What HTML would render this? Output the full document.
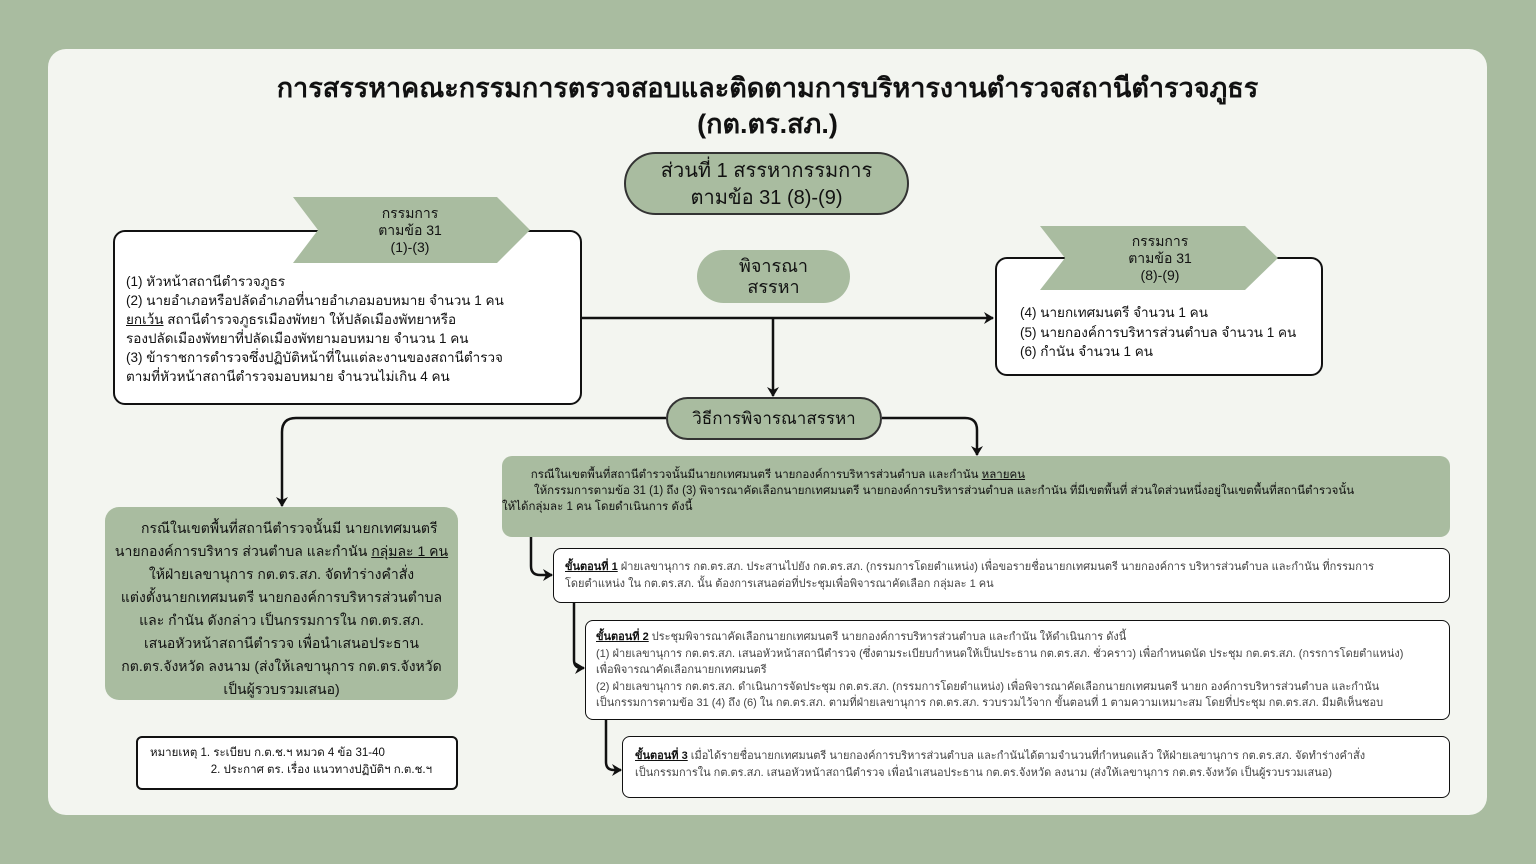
<!DOCTYPE html>
<html><head><meta charset="utf-8"><style>
body{margin:0;width:1536px;height:864px;background:#a9bca0;font-family:"Liberation Sans","Noto Sans CJK SC",sans-serif;position:relative;overflow:hidden;color:#111}
.a{position:absolute;box-sizing:border-box}
.panel{left:48px;top:49px;width:1439px;height:766px;background:#f3f5f0;border-radius:18px}
.g{background:#a9bca0}
.bx{background:#fff;border:2.5px solid #111;border-radius:12px}
.c{text-align:center}
u{text-decoration:underline}
</style></head><body>
<div class="a panel"></div>
<div class="a c" style="left:48px;width:1439px;top:70px;font-size:27px;font-weight:bold;line-height:36px">การสรรหาคณะกรรมการตรวจสอบและติดตามการบริหารงานตำรวจสถานีตำรวจภูธร<br>(กต.ตร.สภ.)</div>
<div class="a g c" style="left:624px;top:152px;width:285px;height:63px;border:2px solid #333;border-radius:32px;font-size:20px;line-height:27px;padding-top:4px">ส่วนที่ 1 สรรหากรรมการ<br>ตามข้อ 31 (8)-(9)</div>

<svg class="a" style="left:0;top:0" width="1536" height="864">
<defs><marker id="m" markerWidth="12" markerHeight="12" refX="9" refY="6" orient="auto" markerUnits="userSpaceOnUse"><path d="M0,0 L10,6 L0,12 L3,6 Z" fill="#111"/></marker></defs>
<g stroke="#111" stroke-width="2.5" fill="none">
<line x1="582" y1="318" x2="993" y2="318" marker-end="url(#m)"/>
<line x1="773" y1="318" x2="773" y2="396" marker-end="url(#m)"/>
<path d="M666,418 H296 Q282,418 282,432 V506" marker-end="url(#m)"/>
<path d="M882,418 H965 Q977,418 977,430 V455" marker-end="url(#m)"/>
<path d="M531,537 V566 Q531,575 540,575 H552" marker-end="url(#m)"/>
<path d="M574,603 V660 Q574,668 582,668 H584" marker-end="url(#m)"/>
<path d="M606,720 V762 Q606,770 614,770 H621" marker-end="url(#m)"/>
</g>
</svg>

<div class="a bx" style="left:113px;top:230px;width:469px;height:175px;padding:40px 0 0 11px;font-size:13.5px;line-height:19px">(1) หัวหน้าสถานีตำรวจภูธร<br>(2) นายอำเภอหรือปลัดอำเภอที่นายอำเภอมอบหมาย จำนวน 1 คน<br><u>ยกเว้น</u> สถานีตำรวจภูธรเมืองพัทยา ให้ปลัดเมืองพัทยาหรือ<br>รองปลัดเมืองพัทยาที่ปลัดเมืองพัทยามอบหมาย จำนวน 1 คน<br>(3) ข้าราชการตำรวจซึ่งปฏิบัติหน้าที่ในแต่ละงานของสถานีตำรวจ<br>ตามที่หัวหน้าสถานีตำรวจมอบหมาย จำนวนไม่เกิน 4 คน</div>

<div class="a bx" style="left:995px;top:257px;width:328px;height:119px;padding:44px 0 0 23px;font-size:13.5px;line-height:19.5px">(4) นายกเทศมนตรี จำนวน 1 คน<br>(5) นายกองค์การบริหารส่วนตำบล จำนวน 1 คน<br>(6) กำนัน จำนวน 1 คน</div>

<svg class="a" style="left:0;top:0" width="1536" height="300">
<polygon points="293,197 497,197 530,230 497,263 293,263 318,230" fill="#a9bca0"/>
<polygon points="1040,226 1245,226 1278,258 1245,290 1040,290 1065,258" fill="#a9bca0"/>
</svg>
<div class="a c" style="left:330px;top:205px;width:160px;font-size:14px;line-height:17px">กรรมการ<br>ตามข้อ 31<br>(1)-(3)</div>
<div class="a c" style="left:1075px;top:233px;width:170px;font-size:14px;line-height:17px">กรรมการ<br>ตามข้อ 31<br>(8)-(9)</div>

<div class="a g c" style="left:697px;top:250px;width:153px;height:53px;border-radius:27px;font-size:18px;line-height:21px;padding-top:6px">พิจารณา<br>สรรหา</div>

<div class="a g c" style="left:666px;top:397px;width:216px;height:43px;border:2px solid #333;border-radius:22px;font-size:17px;line-height:39px">วิธีการพิจารณาสรรหา</div>

<div class="a g c" style="left:105px;top:507px;width:353px;height:193px;border-radius:14px;padding-top:10px;font-size:14px;line-height:23px;white-space:nowrap">&nbsp;&nbsp;&nbsp;&nbsp;กรณีในเขตพื้นที่สถานีตำรวจนั้นมี นายกเทศมนตรี<br>นายกองค์การบริหาร ส่วนตำบล และกำนัน <u>กลุ่มละ 1 คน</u><br>ให้ฝ่ายเลขานุการ กต.ตร.สภ. จัดทำร่างคำสั่ง<br>แต่งตั้งนายกเทศมนตรี นายกองค์การบริหารส่วนตำบล<br>และ กำนัน ดังกล่าว เป็นกรรมการใน กต.ตร.สภ.<br>เสนอหัวหน้าสถานีตำรวจ เพื่อนำเสนอประธาน<br>กต.ตร.จังหวัด ลงนาม (ส่งให้เลขานุการ กต.ตร.จังหวัด<br>เป็นผู้รวบรวมเสนอ)</div>

<div class="a" style="left:136px;top:736px;width:322px;height:54px;background:#fff;border:2px solid #111;border-radius:6px;padding:7px 0 0 12px;font-size:11.5px;line-height:17px">หมายเหตุ 1. ระเบียบ ก.ต.ช.ฯ หมวด 4 ข้อ 31-40<br>&nbsp;&nbsp;&nbsp;&nbsp;&nbsp;&nbsp;&nbsp;&nbsp;&nbsp;&nbsp;&nbsp;&nbsp;&nbsp;&nbsp;&nbsp;&nbsp;&nbsp;&nbsp;&nbsp;2. ประกาศ ตร. เรื่อง แนวทางปฏิบัติฯ ก.ต.ช.ฯ</div>

<div class="a g" style="left:502px;top:456px;width:948px;height:81px;border-radius:10px;padding:11px 0 0 0;font-size:11.5px;line-height:16px">&nbsp;&nbsp;&nbsp;&nbsp;&nbsp;&nbsp;&nbsp;&nbsp;&nbsp;กรณีในเขตพื้นที่สถานีตำรวจนั้นมีนายกเทศมนตรี นายกองค์การบริหารส่วนตำบล และกำนัน <u>หลายคน</u><br>&nbsp;&nbsp;&nbsp;&nbsp;&nbsp;&nbsp;&nbsp;&nbsp;&nbsp;&nbsp;ให้กรรมการตามข้อ 31 (1) ถึง (3) พิจารณาคัดเลือกนายกเทศมนตรี นายกองค์การบริหารส่วนตำบล และกำนัน ที่มีเขตพื้นที่ ส่วนใดส่วนหนึ่งอยู่ในเขตพื้นที่สถานีตำรวจนั้น<br>ให้ได้กลุ่มละ 1 คน โดยดำเนินการ ดังนี้</div>

<div class="a" style="left:553px;top:548px;width:897px;height:55px;background:#fff;border:1.5px solid #111;border-radius:8px;padding:10px 0 0 11px;font-size:11px;line-height:17px;color:#444"><b style="color:#111"><u>ขั้นตอนที่ 1</u></b> ฝ่ายเลขานุการ กต.ตร.สภ. ประสานไปยัง กต.ตร.สภ. (กรรมการโดยตำแหน่ง) เพื่อขอรายชื่อนายกเทศมนตรี นายกองค์การ บริหารส่วนตำบล และกำนัน ที่กรรมการ<br>โดยตำแหน่ง ใน กต.ตร.สภ. นั้น ต้องการเสนอต่อที่ประชุมเพื่อพิจารณาคัดเลือก กลุ่มละ 1 คน</div>

<div class="a" style="left:585px;top:620px;width:865px;height:100px;background:#fff;border:1.5px solid #111;border-radius:8px;padding:8px 0 0 10px;font-size:11px;line-height:16.5px;color:#444"><b style="color:#111"><u>ขั้นตอนที่ 2</u></b> ประชุมพิจารณาคัดเลือกนายกเทศมนตรี นายกองค์การบริหารส่วนตำบล และกำนัน ให้ดำเนินการ ดังนี้<br>(1) ฝ่ายเลขานุการ กต.ตร.สภ. เสนอหัวหน้าสถานีตำรวจ (ซึ่งตามระเบียบกำหนดให้เป็นประธาน กต.ตร.สภ. ชั่วคราว) เพื่อกำหนดนัด ประชุม กต.ตร.สภ. (กรรการโดยตำแหน่ง)<br>เพื่อพิจารณาคัดเลือกนายกเทศมนตรี<br>(2) ฝ่ายเลขานุการ กต.ตร.สภ. ดำเนินการจัดประชุม กต.ตร.สภ. (กรรมการโดยตำแหน่ง) เพื่อพิจารณาคัดเลือกนายกเทศมนตรี นายก องค์การบริหารส่วนตำบล และกำนัน<br>เป็นกรรมการตามข้อ 31 (4) ถึง (6) ใน กต.ตร.สภ. ตามที่ฝ่ายเลขานุการ กต.ตร.สภ. รวบรวมไว้จาก ขั้นตอนที่ 1 ตามความเหมาะสม โดยที่ประชุม กต.ตร.สภ. มีมติเห็นชอบ</div>

<div class="a" style="left:622px;top:736px;width:828px;height:62px;background:#fff;border:1.5px solid #111;border-radius:8px;padding:11px 0 0 12px;font-size:11px;line-height:17px;color:#444"><b style="color:#111"><u>ขั้นตอนที่ 3</u></b> เมื่อได้รายชื่อนายกเทศมนตรี นายกองค์การบริหารส่วนตำบล และกำนันได้ตามจำนวนที่กำหนดแล้ว ให้ฝ่ายเลขานุการ กต.ตร.สภ. จัดทำร่างคำสั่ง<br>เป็นกรรมการใน กต.ตร.สภ. เสนอหัวหน้าสถานีตำรวจ เพื่อนำเสนอประธาน กต.ตร.จังหวัด ลงนาม (ส่งให้เลขานุการ กต.ตร.จังหวัด เป็นผู้รวบรวมเสนอ)</div>
</body></html>
